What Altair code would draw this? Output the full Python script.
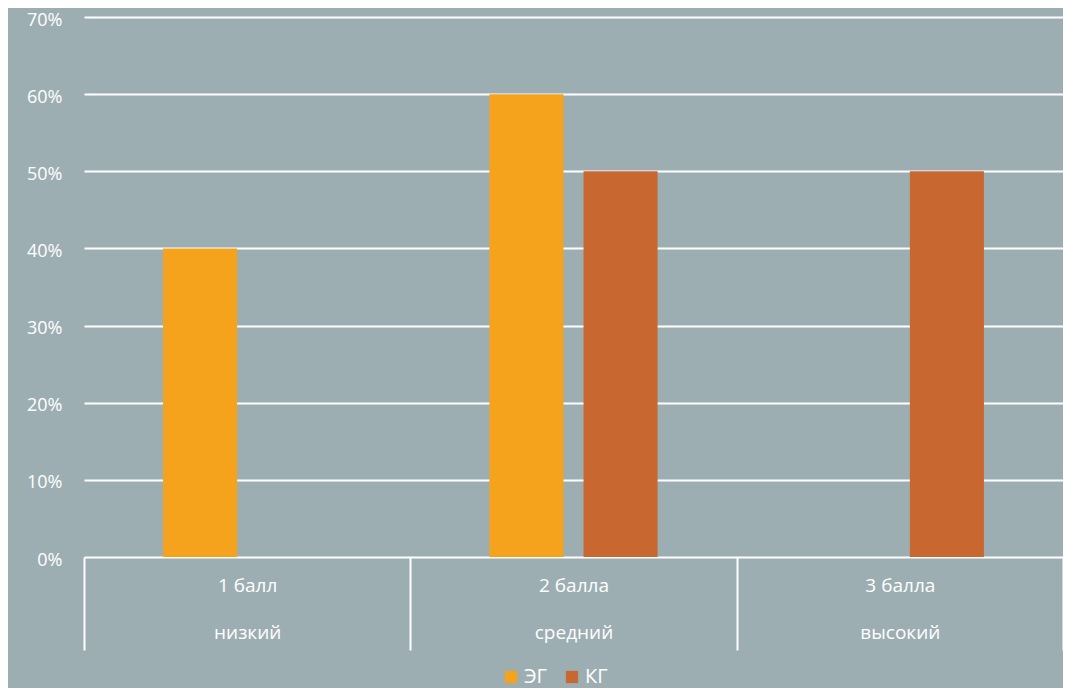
import altair as alt
import pandas as pd

scores = ["1 балл", "2 балла", "3 балла"]
levels = ["низкий", "средний", "высокий"]
series = ["ЭГ", "КГ"]
eg_values = [0.40, 0.60, 0.0]
kg_values = [0.0, 0.50, 0.50]
colors = ["#F5A31D", "#C8672F"]
bg = "#9DAEB3"

cats = [f"{s}|{l}" for s, l in zip(scores, levels)]
rows = []
for c, v in zip(cats, eg_values):
    rows.append({"cat": c, "grp": series[0], "val": v})
for c, v in zip(cats, kg_values):
    rows.append({"cat": c, "grp": series[1], "val": v})
df = pd.DataFrame(rows)

font = "Open Sans"
fs = 19

chart = alt.Chart(df).mark_bar().encode(
    x=alt.X("cat:N", sort=cats, title=None,
            scale=alt.Scale(paddingInner=0, paddingOuter=0),
            axis=alt.Axis(labelExpr="split(datum.label, '|')", labelAngle=0,
                          domain=False, ticks=True, tickBand="extent",
                          tickSize=93, tickColor="white", tickWidth=2,
                          labelColor="white", labelFont=font, labelFontSize=fs,
                          labelLineHeight=47, labelPadding=-74, labelBaseline="top",
                          grid=False)),
    xOffset=alt.XOffset("grp:N", sort=series,
                        scale=alt.Scale(paddingInner=0.213, paddingOuter=0.84)),
    y=alt.Y("val:Q", title=None,
            scale=alt.Scale(domain=[0, 0.7]),
            axis=alt.Axis(format=".0%", values=[0, 0.1, 0.2, 0.3, 0.4, 0.5, 0.6, 0.7],
                          domain=False, ticks=False, grid=True, gridColor="white",
                          gridWidth=2, gridOpacity=1, labelColor="white",
                          labelFont=font, labelFontSize=18, labelPadding=22,
                          labelOffset=3)),
    color=alt.Color("grp:N", sort=series, title=None,
                    scale=alt.Scale(domain=series, range=colors),
                    legend=alt.Legend(orient="none", legendX=417, legendY=650,
                                      direction="horizontal", symbolType="square",
                                      symbolSize=150, symbolOpacity=1,
                                      labelColor="white", labelFont=font,
                                      labelFontSize=20, columnPadding=14,
                                      labelOffset=3)),
).properties(
    width=979, height=540, background=bg,
    autosize=alt.AutoSizeParams(type="none"),
    padding={"left": 76, "top": 9, "right": 0, "bottom": 131},
).configure_view(stroke=None)

chart.save("out.html", embed_options={"renderer": "svg", "actions": False})
